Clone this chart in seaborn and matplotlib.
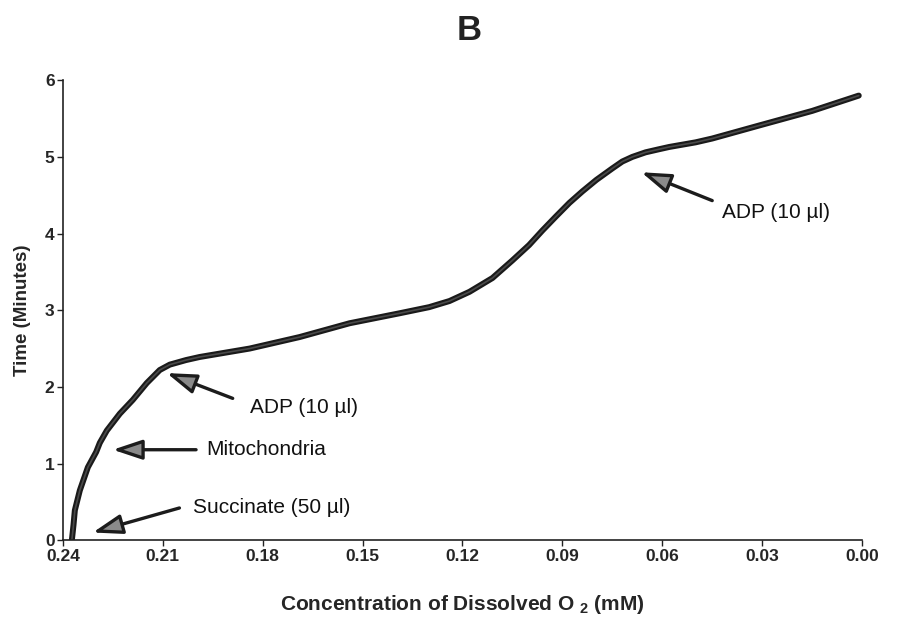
import numpy as np
import pandas as pd
import matplotlib
matplotlib.use("Agg")
import matplotlib.pyplot as plt
import seaborn as sns

# O2 concentration (mM) vs time (min)
conc = [0.2373, 0.2368, 0.2364, 0.2349, 0.2325, 0.2300, 0.2289, 0.2268, 0.2229,
        0.2190, 0.2148, 0.2109, 0.2079, 0.2030, 0.1989, 0.1839, 0.1689, 0.1539,
        0.1389, 0.1300, 0.1239, 0.1179, 0.1110, 0.1050, 0.1000, 0.0960, 0.0920,
        0.0879, 0.0840, 0.0798, 0.0750, 0.0720, 0.0690, 0.0650, 0.0610, 0.0579,
        0.0500, 0.0450, 0.0309, 0.0150, 0.0010]
time = [0.00, 0.20, 0.39, 0.65, 0.95, 1.15, 1.27, 1.43, 1.65,
        1.83, 2.05, 2.22, 2.29, 2.35, 2.39, 2.50, 2.65, 2.83,
        2.96, 3.04, 3.12, 3.24, 3.42, 3.65, 3.85, 4.04, 4.22,
        4.40, 4.55, 4.70, 4.85, 4.94, 5.00, 5.06, 5.10, 5.13,
        5.19, 5.24, 5.41, 5.60, 5.80]

# annotations: label, arrow tip (x, y), arrow tail (x, y), text position (x, y)
labels = ["Succinate (50 \u00b5l)", "Mitochondria", "ADP (10 \u00b5l)", "ADP (10 \u00b5l)"]
tips = [(0.2310, 0.10), (0.2250, 1.18), (0.2088, 2.18), (0.0663, 4.80)]
tails = [(0.2050, 0.42), (0.2000, 1.18), (0.1890, 1.85), (0.0450, 4.43)]
texts = [(0.2010, 0.42), (0.1968, 1.18), (0.1839, 1.73), (0.0420, 4.28)]

df = pd.DataFrame({"conc": conc, "time": time})

sns.set_style("ticks")
plt.rcParams["font.family"] = ["Liberation Sans", "DejaVu Sans"]
plt.rcParams["mathtext.fontset"] = "custom"
plt.rcParams["mathtext.bf"] = "Liberation Sans:bold"
plt.rcParams["mathtext.rm"] = "Liberation Sans:bold"
plt.rcParams["mathtext.default"] = "bf"

fig = plt.figure(figsize=(8.98, 6.37), dpi=100)
ax = fig.add_axes([0.070, 0.152, 0.890, 0.722])

sns.lineplot(data=df, x="conc", y="time", ax=ax, color="#1a1a1a", linewidth=4.3,
             sort=False, solid_capstyle="round", solid_joinstyle="round")
sns.lineplot(data=df, x="conc", y="time", ax=ax, color="#4a4a4a", linewidth=1.2,
             sort=False, solid_joinstyle="round")

ax.set_xlim(0.24, 0.0)
ax.set_ylim(0, 6)
ax.set_xticks([0.24, 0.21, 0.18, 0.15, 0.12, 0.09, 0.06, 0.03, 0.00])
ax.set_xticklabels(["0.24", "0.21", "0.18", "0.15", "0.12", "0.09", "0.06", "0.03", "0.00"])
ax.set_yticks(range(7))
ax.tick_params(axis="both", length=4, width=1, labelsize=12.5, pad=2, color="#222222")
for lab in ax.get_xticklabels() + ax.get_yticklabels():
    lab.set_fontweight("bold")
sns.despine(ax=ax)
for s in ["left", "bottom"]:
    ax.spines[s].set_linewidth(1.2)
    ax.spines[s].set_color("#222222")

ax.set_xlabel(r"Concentration of Dissolved O $_2$ (mM)", fontsize=15,
              fontweight="bold", labelpad=21)
ax.set_ylabel("Time (Minutes)", fontsize=13.5, fontweight="bold", labelpad=10)

for lab, tip, tail, txt in zip(labels, tips, tails, texts):
    ax.annotate("", xy=tip, xytext=tail,
                arrowprops=dict(arrowstyle="-|>,head_length=1.5,head_width=0.5",
                                lw=2.4, color="#1c1c1c", fc="#8a8a8a",
                                shrinkA=0, shrinkB=0, mutation_scale=12))
    ax.text(txt[0], txt[1], lab, fontsize=15, ha="left", va="center", color="#111111")

fig.text(0.523, 0.952, "B", fontsize=25, fontweight="bold", ha="center", va="center",
         color="#222222")

fig.savefig("out.png", dpi=100)
